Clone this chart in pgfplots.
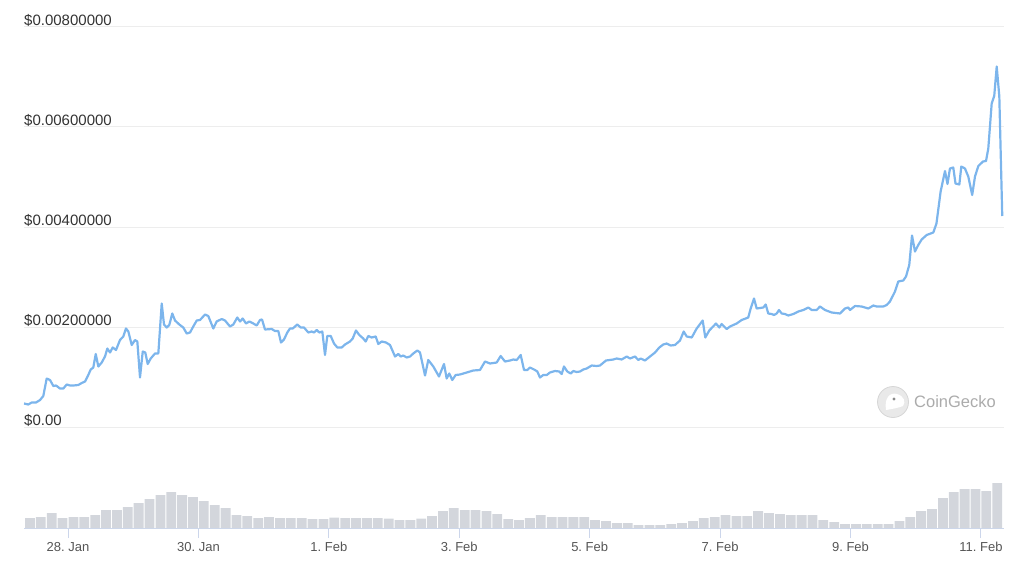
\documentclass[border=0pt]{standalone}
\usepackage{pgfplots}
\pgfplotsset{compat=1.18}
\usepackage{fontspec}
\setmainfont{Liberation Sans}
\definecolor{linec}{HTML}{7CB5EC}
\definecolor{volc}{HTML}{D3D6DC}
\definecolor{gridc}{HTML}{EDEDED}
\definecolor{axisc}{HTML}{CCD6EB}
\definecolor{ylab}{HTML}{333333}
\definecolor{xlab}{HTML}{555555}
\definecolor{wm}{HTML}{ABABAB}
\definecolor{wmfill}{HTML}{E9E9E9}
\definecolor{wmdraw}{HTML}{D6D6D6}
\definecolor{wmeye}{HTML}{8A8A8A}

\begin{document}
\frenchspacing
\begin{tikzpicture}[x=1pt,y=1pt]
\path[use as bounding box] (0,0) rectangle (1024,566);

% price panel
\begin{axis}[at={(24pt,139pt)}, anchor=south west, scale only axis,
  width=980pt, height=400pt,
  xmin=-0.675, xmax=14.354, ymin=0, ymax=0.008,
  axis line style={draw=none}, xtick=\empty,
  ytick={0,0.002,0.004,0.006,0.008},
  yticklabels={\$0.00,\$0.00200000,\$0.00400000,\$0.00600000,\$0.00800000},
  scaled y ticks=false,
  ymajorgrids, grid style={gridc, line width=1pt},
  major tick length=0pt,
  yticklabel style={anchor=base west, inner sep=0pt, yshift=1.5pt,
    font=\fontsize{15}{15}\selectfont, text=ylab},
  clip=false]
\addplot[linec, line width=2.2pt, line join=round] coordinates {
(-0.675,0.00047) (-0.609,0.00045) (-0.557,0.00049) (-0.491,0.00049) (-0.429,0.00054)
(-0.379,0.00062) (-0.327,0.00097) (-0.276,0.00094) (-0.225,0.00082) (-0.184,0.00083)
(-0.123,0.00077) (-0.072,0.00077) (-0.020,0.00085) (0.031,0.00083) (0.081,0.00083)
(0.158,0.00084) (0.210,0.00088) (0.261,0.00091) (0.311,0.00104) (0.348,0.00115)
(0.388,0.00119) (0.425,0.00146) (0.465,0.00121) (0.517,0.00129) (0.567,0.00141)
(0.603,0.00157) (0.644,0.00149) (0.685,0.00159) (0.736,0.00154) (0.797,0.00174)
(0.848,0.00181) (0.889,0.00197) (0.925,0.00191) (0.977,0.00164) (1.027,0.00174)
(1.063,0.00171) (1.104,0.00099) (1.146,0.00151) (1.185,0.00149) (1.222,0.00126)
(1.268,0.00137) (1.334,0.00147) (1.385,0.00147) (1.437,0.00247) (1.472,0.00205)
(1.514,0.00199) (1.553,0.00204) (1.599,0.00227) (1.641,0.00213) (1.707,0.00205)
(1.768,0.00199) (1.820,0.00187) (1.871,0.00189) (1.921,0.00201) (1.974,0.00213)
(2.024,0.00214) (2.101,0.00225) (2.151,0.00222) (2.228,0.00197) (2.280,0.00211)
(2.357,0.00216) (2.408,0.00213) (2.484,0.00201) (2.535,0.00205) (2.596,0.00219)
(2.638,0.00211) (2.679,0.00217) (2.730,0.00207) (2.780,0.00211) (2.842,0.00207)
(2.894,0.00203) (2.944,0.00214) (2.975,0.00215) (3.021,0.00195) (3.124,0.00196)
(3.174,0.00192) (3.225,0.00192) (3.266,0.00169) (3.312,0.00175) (3.363,0.00189)
(3.404,0.00197) (3.446,0.00197) (3.516,0.00205) (3.568,0.00199) (3.619,0.00199)
(3.685,0.00189) (3.737,0.00191) (3.772,0.00189) (3.814,0.00194) (3.854,0.00189)
(3.900,0.00191) (3.941,0.00144) (3.976,0.00182) (4.029,0.00182) (4.079,0.00167)
(4.130,0.00159) (4.197,0.00159) (4.248,0.00165) (4.324,0.00171) (4.366,0.00177)
(4.416,0.00193) (4.467,0.00184) (4.528,0.00177) (4.565,0.00171) (4.605,0.00182)
(4.657,0.00179) (4.719,0.00181) (4.758,0.00166) (4.811,0.00171) (4.877,0.00169)
(4.938,0.00164) (5.015,0.00141) (5.065,0.00146) (5.102,0.00141) (5.142,0.00143)
(5.194,0.00139) (5.245,0.00141) (5.295,0.00147) (5.357,0.00153) (5.398,0.00149)
(5.475,0.00103) (5.525,0.00134) (5.602,0.00121) (5.689,0.00101) (5.766,0.00126)
(5.807,0.00097) (5.847,0.00107) (5.893,0.00094) (5.945,0.00104) (6.011,0.00105)
(6.114,0.00109) (6.215,0.00113) (6.318,0.00114) (6.395,0.00131) (6.471,0.00127)
(6.574,0.00129) (6.635,0.00142) (6.701,0.00131) (6.778,0.00133) (6.829,0.00135)
(6.881,0.00134) (6.942,0.00144) (6.993,0.00114) (7.043,0.00114) (7.085,0.00119)
(7.161,0.00114) (7.197,0.00111) (7.238,0.00099) (7.289,0.00104) (7.341,0.00104)
(7.391,0.00109) (7.468,0.00112) (7.534,0.00111) (7.571,0.00106) (7.606,0.00121)
(7.657,0.00111) (7.709,0.00107) (7.749,0.00112) (7.801,0.00110) (7.851,0.00111)
(7.902,0.00115) (7.954,0.00117) (8.031,0.00123) (8.108,0.00122) (8.158,0.00123)
(8.250,0.00133) (8.362,0.00135) (8.414,0.00137) (8.491,0.00135) (8.568,0.00141)
(8.618,0.00137) (8.695,0.00141) (8.746,0.00134) (8.782,0.00137) (8.848,0.00133)
(8.925,0.00141) (9.002,0.00149) (9.068,0.00159) (9.129,0.00165) (9.181,0.00167)
(9.242,0.00163) (9.308,0.00164) (9.385,0.00173) (9.442,0.00191) (9.488,0.00181)
(9.565,0.00179) (9.641,0.00197) (9.733,0.00213) (9.773,0.00179) (9.834,0.00193)
(9.937,0.00207) (9.988,0.00199) (10.024,0.00206) (10.101,0.00196) (10.152,0.00201)
(10.254,0.00207) (10.331,0.00214) (10.432,0.00219) (10.469,0.00237) (10.520,0.00257)
(10.561,0.00237) (10.663,0.00239) (10.699,0.00245) (10.739,0.00227) (10.791,0.00226)
(10.827,0.00224) (10.868,0.00227) (10.903,0.00234) (10.945,0.00227) (10.995,0.00226)
(11.046,0.00223) (11.123,0.00226) (11.199,0.00231) (11.276,0.00234) (11.353,0.00239)
(11.405,0.00234) (11.481,0.00234) (11.532,0.00241) (11.609,0.00234) (11.711,0.00229)
(11.839,0.00227) (11.915,0.00237) (11.966,0.00239) (11.992,0.00234) (12.069,0.00242)
(12.171,0.00241) (12.273,0.00237) (12.350,0.00243) (12.401,0.00241) (12.502,0.00241)
(12.555,0.00244) (12.605,0.00251) (12.682,0.00271) (12.733,0.00291) (12.809,0.00293)
(12.851,0.00301) (12.901,0.00324) (12.943,0.00383) (12.989,0.00351) (13.039,0.00364)
(13.091,0.00375) (13.168,0.00384) (13.270,0.00389) (13.318,0.00407) (13.382,0.00471)
(13.449,0.00512) (13.487,0.00486) (13.525,0.00517) (13.576,0.00519) (13.610,0.00487)
(13.669,0.00485) (13.699,0.00521) (13.755,0.00517) (13.806,0.00501) (13.866,0.00464)
(13.909,0.00501) (13.960,0.00522) (14.032,0.00531) (14.078,0.00532) (14.113,0.00557)
(14.165,0.00647) (14.204,0.00662) (14.242,0.00721) (14.282,0.00661) (14.327,0.00422)
};
\end{axis}

% volume panel
\begin{axis}[at={(24pt,38pt)}, anchor=south west, scale only axis,
  width=980pt, height=60pt,
  xmin=-0.675, xmax=14.354, ymin=0, ymax=60,
  axis y line=none, ytick=\empty,
  axis x line*=bottom,
  x axis line style={-, draw=axisc, line width=1pt},
  xtick={0,2,4,6,8,10,12,14},
  xticklabels={28. Jan,30. Jan,1. Feb,3. Feb,5. Feb,7. Feb,9. Feb,11. Feb},
  xtick align=outside, major tick length=10pt,
  xtick style={draw=axisc, line width=1pt},
  xticklabel style={anchor=base, inner sep=0pt, yshift=-13pt,
    font=\fontsize{13}{13}\selectfont, text=xlab}]
\addplot[ybar, bar width=0.15, fill=volc, draw=none] coordinates {
(-0.583,10) (-0.417,11) (-0.250,15) (-0.083,10)
(0.083,11) (0.250,11) (0.417,13) (0.583,18) (0.750,18) (0.917,21)
(1.083,25) (1.250,29) (1.417,33) (1.583,36) (1.750,33) (1.917,31)
(2.083,27) (2.250,23) (2.417,20) (2.583,13) (2.750,12) (2.917,10)
(3.083,11) (3.250,10) (3.417,10) (3.583,10) (3.750,9) (3.917,9)
(4.083,10.5) (4.250,10) (4.417,10) (4.583,10) (4.750,10) (4.917,9.5)
(5.083,8) (5.250,8) (5.417,9.5) (5.583,12) (5.750,17) (5.917,20)
(6.083,18) (6.250,18) (6.417,17) (6.583,14) (6.750,9) (6.917,8)
(7.083,10) (7.250,13) (7.417,11) (7.583,11) (7.750,11) (7.917,11)
(8.083,8) (8.250,7) (8.417,5) (8.583,5) (8.750,3) (8.917,3)
(9.083,3) (9.250,4) (9.417,5) (9.583,7) (9.750,10) (9.917,11)
(10.083,13) (10.250,12) (10.417,12) (10.583,17) (10.750,15) (10.917,14)
(11.083,13) (11.250,13) (11.417,13) (11.583,8) (11.750,6) (11.917,4)
(12.083,4) (12.250,4) (12.417,4) (12.583,4) (12.750,7) (12.917,11)
(13.083,17) (13.250,19) (13.417,30) (13.583,36) (13.750,39) (13.917,39)
(14.083,37) (14.250,45)
};
\end{axis}

% CoinGecko watermark
\fill[wmfill] (893,164) circle (15.5);
\draw[wmdraw, line width=0.8pt] (893,164) circle (15.5);
\fill[white] (886,156) .. controls (884,168) and (890,174) .. (897,172) .. controls (904,170) and (906,164) .. (903,160) .. controls (898,158) and (892,157) .. (886,156) -- cycle;
\fill[wmeye] (894,167) circle (1.6);
\node[anchor=west, inner sep=0pt, text=wm, font=\fontsize{16.5}{16.5}\selectfont] at (914,164) {CoinGecko};
\end{tikzpicture}
\end{document}
